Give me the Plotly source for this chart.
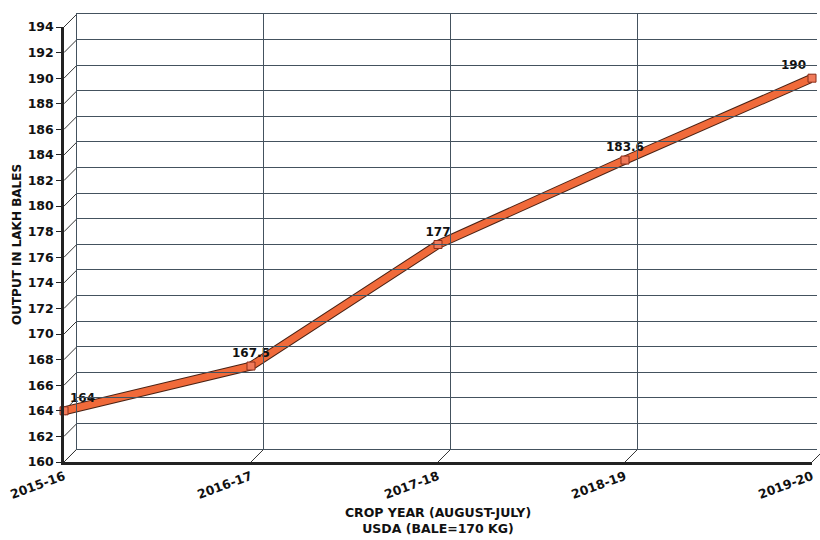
import plotly.graph_objects as go

years = ["2015-16", "2016-17", "2017-18", "2018-19", "2019-20"]
output = [164, 167.5, 177, 183.6, 190]
labels = ["164", "167.5", "177", "183.6", "190"]
label_pos = ["top right", "top center", "top center", "top center", "top left"]
y_ticks = list(range(160, 196, 2))

W, H = 820, 540
ML, MR, MT, MB = 64, 0, 14, 78
PW, PH = W - ML - MR, H - MT - MB
DX, DY = 13, 13  # depth offset in px
FRONT_W = 751
FRONT_H = 435

xi = list(range(len(years)))
fx_dom = [0, FRONT_W / PW]
fy_dom = [0, FRONT_H / PH]
bx_dom = [DX / PW, 1]
by_dom = [DY / PH, 1]
ymin, ymax = 160, 194
back_xmax = (PW - DX) / FRONT_W * (len(years) - 1)

FAM = "DejaVu Sans, Liberation Sans, Arial"
font_b = dict(family=FAM, size=12.5, color="#111", weight="bold")
grid_c = "#44525e"

fig = go.Figure()

# back wall (own subplot)
fig.add_trace(go.Scatter(x=[0], y=[ymin], xaxis="x2", yaxis="y2", mode="markers",
                         marker=dict(opacity=0), showlegend=False, hoverinfo="skip"))

# ribbon outline + fill
fig.add_trace(go.Scatter(x=xi, y=output, mode="lines", line=dict(color="#4a2214", width=9),
                         showlegend=False, hoverinfo="skip", cliponaxis=False))
fig.add_trace(go.Scatter(x=xi, y=output, mode="lines", line=dict(color="#f06a3a", width=7),
                         showlegend=False, hoverinfo="skip", cliponaxis=False))
fig.add_trace(go.Scatter(x=xi, y=output, mode="markers+text", text=labels,
                         textposition=label_pos,
                         textfont=dict(family=FAM, size=12, color="#111", weight="bold"),
                         marker=dict(symbol="square", size=8, color="#f07a5a",
                                     line=dict(color="#8a2e1a", width=1)),
                         showlegend=False, cliponaxis=False))

shapes = []
sx = DX / PW
sy = DY / PH
# y-axis diagonal connectors
for v in y_ticks:
    fy = (v - ymin) / (ymax - ymin) * fy_dom[1]
    shapes.append(dict(type="line", xref="paper", yref="paper", x0=0, y0=fy, x1=sx, y1=fy + sy,
                       line=dict(color="#333", width=1), layer="below"))
# floor connectors
for i in xi:
    fx = i / (len(years) - 1) * fx_dom[1]
    shapes.append(dict(type="line", xref="paper", yref="paper", x0=fx, y0=0, x1=fx + sx, y1=sy,
                       line=dict(color="#333", width=1), layer="below"))

fig.update_layout(
    width=W, height=H,
    margin=dict(l=ML, r=MR, t=MT, b=MB),
    paper_bgcolor="white", plot_bgcolor="rgba(0,0,0,0)",
    shapes=shapes,
    xaxis=dict(domain=fx_dom, range=[0, len(years) - 1], tickvals=xi, ticktext=years,
               tickangle=-20, showgrid=False, zeroline=False, showline=True,
               linecolor="#222", linewidth=2.5, ticks="", tickfont=font_b,
               title=dict(text="CROP YEAR (AUGUST-JULY)<br>USDA (BALE=170 KG)",
                          font=dict(family=FAM, size=12.5, color="#111", weight="bold"),
                          standoff=8)),
    yaxis=dict(domain=fy_dom, range=[ymin, ymax], tickvals=y_ticks, showgrid=False,
               zeroline=False, showline=True, linecolor="#222", linewidth=2.5,
               ticks="outside", ticklen=5, tickcolor="#222", tickfont=font_b,
               title=dict(text="OUTPUT IN LAKH BALES",
                          font=dict(family=FAM, size=12, color="#111", weight="bold"),
                          standoff=4)),
    xaxis2=dict(domain=bx_dom, range=[0, back_xmax], anchor="y2",
                dtick=1, tick0=0, showgrid=True, gridcolor=grid_c, gridwidth=1,
                showticklabels=False, zeroline=False, showline=True, linecolor=grid_c,
                linewidth=1, mirror=True, ticks=""),
    yaxis2=dict(domain=by_dom, range=[ymin, ymax], anchor="x2",
                dtick=2, tick0=160, showgrid=True, gridcolor=grid_c, gridwidth=1.2,
                showticklabels=False, zeroline=False, showline=True, linecolor=grid_c,
                linewidth=1, ticks=""),
)

fig.write_html("out.html")
